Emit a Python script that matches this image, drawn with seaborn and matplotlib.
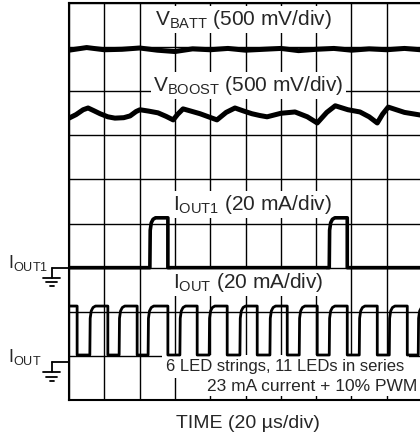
import numpy as np
import pandas as pd
import seaborn as sns
import matplotlib.pyplot as plt

# all values in scope divisions (x: 20 us/div, y: screen divisions from bottom)
vbatt_t = [0.0, 0.5, 1.0, 1.5, 2.0, 2.5, 3.0, 3.5, 4.0, 4.5, 5.0, 5.5, 6.0, 6.5, 7.0, 7.5, 8.0, 8.5, 9.0, 9.5, 9.95]
vbatt_v = [7.93, 7.99, 7.94, 7.95, 7.98, 7.93, 7.90, 7.96, 7.94, 7.97, 7.93, 7.95, 7.97, 7.92, 7.95, 7.97, 7.93, 7.96, 7.94, 7.97, 7.94]

vboost_t = [0.0, 0.2, 0.4, 0.54, 0.7, 0.88, 1.1, 1.30, 1.55, 1.73, 1.9, 2.01, 2.25, 2.52, 2.75, 2.95,
            3.08, 3.23, 3.45, 3.71, 3.95, 4.19, 4.45, 4.70, 4.95, 5.18, 5.4, 5.61, 6.0, 6.40, 6.75, 7.03,
            7.3, 7.54, 7.9, 8.24, 8.5, 8.73, 8.88, 9.04, 9.5, 9.95]
vboost_v = [6.39, 6.47, 6.58, 6.62, 6.56, 6.49, 6.42, 6.39, 6.40, 6.44, 6.54, 6.58, 6.55, 6.51, 6.43, 6.35,
            6.48, 6.60, 6.55, 6.49, 6.42, 6.35, 6.52, 6.62, 6.55, 6.49, 6.45, 6.42, 6.50, 6.53, 6.42, 6.28,
            6.52, 6.67, 6.58, 6.53, 6.42, 6.28, 6.48, 6.64, 6.52, 6.46]

iout1_rise = [2.29, 7.37]
iout1_fall = [2.80, 7.88]
iout1_low, iout1_high = 3.0, 4.13

iout_rise = [0.59, 1.42, 2.24, 3.14, 3.97, 4.84, 5.69, 6.52, 7.37, 8.22, 9.07, 9.89]
iout_fall = [0.23, 1.10, 1.93, 2.80, 3.63, 4.48, 5.33, 6.18, 7.03, 7.88, 8.73, 9.58]
iout_low, iout_high = 1.02, 2.13

# rounded leading edge seen on the current pulses
rise_dt = [0.0, 0.01, 0.04, 0.09, 0.16]
rise_frac = [0.0, 0.75, 0.90, 0.97, 1.0]

x_max = 9.94


def pulse_train(rise, fall, low, high, start_high):
    t = [0.0]
    v = [high if start_high else low]
    events = sorted([(r, 1) for r in rise] + [(f, 0) for f in fall])
    for te, up in events:
        if up:
            for dt, fr in zip(rise_dt, rise_frac):
                t.append(te + dt)
                v.append(low + fr * (high - low))
        else:
            t += [te, te]
            v += [high, low]
    t.append(max(t[-1], 10.3))
    v.append(v[-1])
    return t, v


sns.set_theme(style="white")
plt.rcParams['font.family'] = ['Liberation Sans', 'DejaVu Sans']
plt.rcParams['mathtext.fontset'] = 'custom'
plt.rcParams['mathtext.rm'] = 'Liberation Sans'

fig = plt.figure(figsize=(4.2, 4.48), dpi=100)
ax = fig.add_axes([69 / 420, 1 - 400 / 448, 351 / 420, 397 / 448])

ax.set_xlim(0, x_max)
ax.set_ylim(0, 9)
ax.set_xticks(range(10))
ax.set_yticks(range(10))
ax.tick_params(length=0, labelbottom=False, labelleft=False)
ax.grid(True, color='black', lw=1.0)
ax.set_axisbelow(True)
for side in ['left', 'top', 'bottom']:
    ax.spines[side].set_color('black')
    ax.spines[side].set_linewidth(1.5)
ax.spines['right'].set_visible(False)

sns.lineplot(x=vbatt_t, y=vbatt_v, ax=ax, color='black', lw=3.6, estimator=None, sort=False, zorder=4)
sns.lineplot(x=vboost_t, y=vboost_v, ax=ax, color='black', lw=3.6, estimator=None, sort=False, zorder=4)

t1, v1 = pulse_train(iout1_rise, iout1_fall, iout1_low, iout1_high, False)
sns.lineplot(x=t1, y=v1, ax=ax, color='black', lw=2.6, estimator=None, sort=False, zorder=4)
t2, v2 = pulse_train(iout_rise, iout_fall, iout_low, iout_high, True)
sns.lineplot(x=t2, y=v2, ax=ax, color='black', lw=2.0, estimator=None, sort=False, zorder=4)

box = dict(facecolor='white', edgecolor='none', pad=1.5)
ax.text(2.44, 8.50, r'$\mathrm{V_{BATT}}$ (500 mV/div)', fontsize=15, va='baseline', bbox=box, zorder=3)
ax.text(2.38, 7.0, r'$\mathrm{V_{BOOST}}$ (500 mV/div)', fontsize=15, va='baseline', bbox=box, zorder=3)
ax.text(2.95, 4.31, r'$\mathrm{I_{OUT1}}$ (20 mA/div)', fontsize=15, va='baseline', bbox=box, zorder=3)
ax.text(2.95, 2.54, r'$\mathrm{I_{OUT}}$ (20 mA/div)', fontsize=15, va='baseline', bbox=box, zorder=3)
ax.text(2.75, 0.66, '6 LED strings, 11 LEDs in series', fontsize=12, va='baseline', bbox=dict(facecolor='white', edgecolor='none', pad=3), zorder=3)
ax.text(3.91, 0.20, '23 mA current + 10% PWM', fontsize=12.5, va='baseline', bbox=box, zorder=3)

# channel zero markers with ground symbols at the left of the screen
for name, level in [(r'$\mathrm{I_{OUT1}}$', 3.0), (r'$\mathrm{I_{OUT}}$', 0.86)]:
    ax.text(-1.73, level, name, fontsize=13, va='baseline', ha='left', clip_on=False)
    ax.plot([-0.48, 0, 0], [level, level, level], color='black', lw=1.3, clip_on=False)
    ax.plot([-0.48, -0.48], [level, level - 0.23], color='black', lw=1.3, clip_on=False)
    ax.plot([-0.73, -0.25], [level - 0.23, level - 0.23], color='black', lw=1.3, clip_on=False)
    ax.plot([-0.65, -0.33], [level - 0.33, level - 0.33], color='black', lw=1.3, clip_on=False)
    ax.plot([-0.54, -0.43], [level - 0.42, level - 0.42], color='black', lw=1.3, clip_on=False)

fig.text(248 / 420, 1 - 428 / 448, u'TIME (20 \u00b5s/div)', fontsize=14, ha='center', va='baseline')

fig.savefig('out.png', dpi=100)
